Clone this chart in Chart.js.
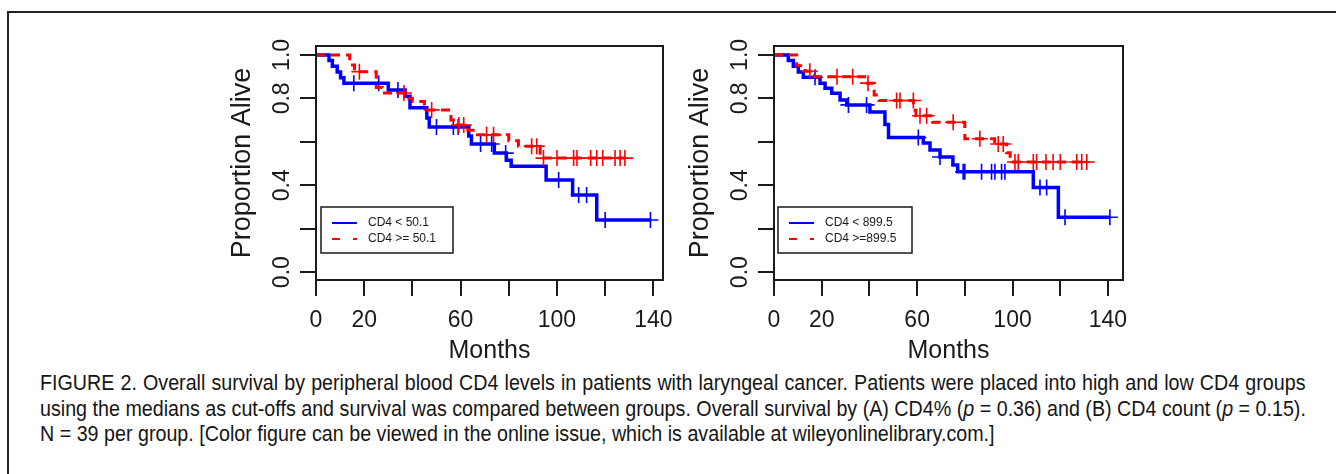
<!DOCTYPE html>
<html>
<head>
<meta charset="utf-8">
<script src="https://cdn.jsdelivr.net/npm/chart.js@4.4.1/dist/chart.umd.min.js"></script>
<style>
  html, body { margin: 0; padding: 0; background: #fff; width: 1336px; height: 474px; overflow: hidden; }
  .frame { position: absolute; left: 7px; top: 11px; width: 1340px; height: 480px; border-left: 2px solid #222; border-top: 2px solid #222; }
  canvas { position: absolute; top: 0; }
  #caption { position: absolute; left: 40px; top: 370px; color: #151515;
    font: 22px "Liberation Sans", Arial, sans-serif; line-height: 25.5px; }
  #caption div { width: 1414px; white-space: nowrap; transform: scaleX(0.895); transform-origin: 0 0; }
  #caption .j { text-align: justify; text-align-last: justify; }
</style>
</head>
<body>
<div class="frame"></div>
<canvas id="left" width="480" height="358" style="left:200px"></canvas>
<canvas id="right" width="470" height="358" style="left:680px"></canvas>
<div id="caption">
  <div class="j">FIGURE 2. Overall survival by peripheral blood CD4 levels in patients with laryngeal cancer. Patients were placed into high and low CD4 groups</div>
  <div class="j">using the medians as cut-offs and survival was compared between groups. Overall survival by (A) CD4% (<i>p</i> = 0.36) and (B) CD4 count (<i>p</i> = 0.15).</div>
  <div>N = 39 per group. [Color figure can be viewed in the online issue, which is available at wileyonlinelibrary.com.]</div>
</div>
<script>
// panel A: CD4 %
const leftLowTime = [0, 5.4, 6.8, 8.8, 10.2, 11.6, 30, 37, 39, 46, 47, 63.4, 64.5, 74, 79, 81, 95.5, 106.5, 116.5, 138.8]
const leftLowSurv = [1, 0.974, 0.948, 0.921, 0.895, 0.87, 0.839, 0.81, 0.757, 0.71, 0.668, 0.627, 0.59, 0.548, 0.515, 0.487, 0.424, 0.355, 0.24, 0.24]
const leftLowCensTime = [15.7, 26, 34, 50, 57, 59, 68.3, 72.9, 78.7, 100.7, 109, 112.3, 120, 138.8]
const leftLowCensSurv = [0.87, 0.87, 0.839, 0.668, 0.668, 0.668, 0.59, 0.59, 0.548, 0.424, 0.355, 0.355, 0.24, 0.24]

const leftHighTime = [0, 14, 16, 25, 27.5, 38.5, 40, 45, 56, 58, 63, 67, 80, 84, 93, 128.2]
const leftHighSurv = [1, 0.954, 0.923, 0.85, 0.825, 0.8, 0.785, 0.747, 0.7, 0.677, 0.653, 0.632, 0.605, 0.58, 0.525, 0.525]
const leftHighCensTime = [18, 36.5, 48, 59.3, 61.3, 70.8, 73.7, 89.5, 91.6, 94.4, 100, 106.9, 108.3, 114, 116.5, 119, 124.1, 126.2, 128.2]
const leftHighCensSurv = [0.923, 0.825, 0.747, 0.677, 0.677, 0.632, 0.632, 0.58, 0.58, 0.525, 0.525, 0.525, 0.525, 0.525, 0.525, 0.525, 0.525, 0.525, 0.525]
const leftLegend = ['CD4 < 50.1', 'CD4 >= 50.1']

// panel B: CD4 count
const rightLowTime = [0, 6, 8.1, 10.2, 12.3, 19.3, 21.4, 24.2, 27.7, 30.5, 40.2, 46.5, 48, 62.6, 65.4, 69.6, 75, 77, 108.7, 119.2, 140.8]
const rightLowSurv = [1, 0.974, 0.948, 0.921, 0.897, 0.87, 0.847, 0.824, 0.793, 0.77, 0.737, 0.68, 0.62, 0.594, 0.562, 0.53, 0.493, 0.462, 0.39, 0.253, 0.253]
const rightLowCensTime = [17.2, 31.2, 38.8, 60.5, 69.6, 79.3, 80, 87, 91.2, 92.6, 95.4, 96.8, 111.5, 114.3, 122, 140.8]
const rightLowCensSurv = [0.897, 0.77, 0.77, 0.62, 0.53, 0.462, 0.462, 0.462, 0.462, 0.462, 0.462, 0.462, 0.39, 0.39, 0.253, 0.253]

const rightHighTime = [0, 9.5, 13, 17, 38, 42, 44, 58.5, 59.5, 66.5, 80, 92.5, 97.5, 99, 131.1]
const rightHighSurv = [1, 0.95, 0.925, 0.9, 0.87, 0.815, 0.79, 0.745, 0.72, 0.69, 0.614, 0.59, 0.55, 0.507, 0.507]
const rightHighCensTime = [15, 26.4, 33, 39.4, 51.4, 52.8, 58.4, 61.2, 64, 75.1, 86.3, 94, 96.1, 101, 102.4, 108.7, 110.1, 114, 117, 120, 126.9, 129, 131.1]
const rightHighCensSurv = [0.925, 0.9, 0.9, 0.87, 0.79, 0.79, 0.79, 0.72, 0.72, 0.69, 0.614, 0.59, 0.59, 0.507, 0.507, 0.507, 0.507, 0.507, 0.507, 0.507, 0.507, 0.507, 0.507]
const rightLegend = ['CD4 < 899.5', 'CD4 >=899.5']

const xTicks = [0, 20, 40, 60, 80, 100, 120, 140]
const xTickLabels = ['0', '20', '', '60', '', '100', '', '140']
const yTicks = [0, 0.2, 0.4, 0.6, 0.8, 1.0]
const yTickLabels = ['0.0', '', '0.4', '', '0.8', '1.0']

const BLUE = '#0000ff'
const RED = '#ff0000'
const INK = '#1a1a1a'

const toPoints = (xs, ys) => xs.map((x, i) => ({ x, y: ys[i] }))

const rotText = (ctx, text, x, y) => {
  ctx.save()
  ctx.translate(x, y)
  ctx.rotate(-Math.PI / 2)
  ctx.fillText(text, 0, 0)
  ctx.restore()
}

// R style box, axes and legend
const survivalAxes = {
  id: 'survivalAxes',
  afterDraw(chart, args, opts) {
    const { ctx, chartArea: a, scales: { x, y } } = chart
    ctx.save()
    ctx.strokeStyle = INK
    ctx.fillStyle = INK
    ctx.lineWidth = 2
    ctx.strokeRect(a.left, a.top, a.right - a.left, a.bottom - a.top)

    ctx.beginPath()
    xTicks.forEach(v => {
      const px = Math.round(x.getPixelForValue(v))
      ctx.moveTo(px, a.bottom)
      ctx.lineTo(px, a.bottom + 16)
    })
    yTicks.forEach(v => {
      const py = Math.round(y.getPixelForValue(v))
      ctx.moveTo(a.left, py)
      ctx.lineTo(a.left - 16, py)
    })
    ctx.stroke()

    ctx.font = '23px "Liberation Sans", Arial, sans-serif'
    ctx.textAlign = 'center'
    ctx.textBaseline = 'alphabetic'
    xTicks.forEach((v, i) => {
      if (xTickLabels[i]) ctx.fillText(xTickLabels[i], x.getPixelForValue(v), a.bottom + 47)
    })
    yTicks.forEach((v, i) => {
      if (yTickLabels[i]) rotText(ctx, yTickLabels[i], a.left - 27, y.getPixelForValue(v))
    })

    ctx.font = '27px "Liberation Sans", Arial, sans-serif'
    rotText(ctx, 'Proportion Alive', a.left - 66, (a.top + a.bottom) / 2)
    ctx.font = '25px "Liberation Sans", Arial, sans-serif'
    ctx.fillText('Months', (a.left + a.right) / 2, a.bottom + 78)

    // legend
    const lx = a.left + opts.legendX
    const ly = 207
    ctx.lineWidth = 1.5
    ctx.strokeRect(lx, ly, opts.legendW, 46)
    ctx.lineWidth = 2
    ctx.strokeStyle = BLUE
    ctx.beginPath()
    ctx.moveTo(lx + 11, ly + 16)
    ctx.lineTo(lx + 36, ly + 16)
    ctx.stroke()
    ctx.strokeStyle = RED
    ctx.setLineDash([8, 13])
    ctx.beginPath()
    ctx.moveTo(lx + 11, ly + 32)
    ctx.lineTo(lx + 36, ly + 32)
    ctx.stroke()
    ctx.setLineDash([])
    ctx.font = '12px "Liberation Sans", Arial, sans-serif'
    ctx.textAlign = 'left'
    ctx.textBaseline = 'middle'
    ctx.fillStyle = INK
    ctx.fillText(opts.labels[0], lx + 47, ly + 16)
    ctx.fillText(opts.labels[1], lx + 47, ly + 32)
    ctx.restore()
  }
}

const makePanel = (id, p) => new Chart(document.getElementById(id), {
  type: 'line',
  data: {
    datasets: [
      {
        type: 'scatter', data: toPoints(p.highCensTime, p.highCensSurv),
        pointStyle: 'cross', pointRadius: 8, borderColor: RED, borderWidth: 1.6, showLine: false
      },
      {
        data: toPoints(p.highTime, p.highSurv), stepped: true,
        borderColor: RED, borderWidth: 3, borderDash: [9, 6], pointRadius: 0, fill: false
      },
      {
        type: 'scatter', data: toPoints(p.lowCensTime, p.lowCensSurv),
        pointStyle: 'cross', pointRadius: 8, borderColor: BLUE, borderWidth: 1.6, showLine: false
      },
      {
        data: toPoints(p.lowTime, p.lowSurv), stepped: true,
        borderColor: BLUE, borderWidth: 3.5, pointRadius: 0, fill: false
      }
    ]
  },
  options: {
    responsive: false,
    animation: false,
    devicePixelRatio: 1,
    layout: { padding: p.padding },
    plugins: {
      legend: { display: false },
      tooltip: { enabled: false },
      survivalAxes: { labels: p.legend, legendX: p.legendX, legendW: p.legendW }
    },
    scales: {
      x: { type: 'linear', min: 0, max: p.xMax, display: false },
      y: { type: 'linear', min: -0.036, max: 1.041, display: false }
    }
  },
  plugins: [survivalAxes]
})

makePanel('left', {
  lowTime: leftLowTime, lowSurv: leftLowSurv, lowCensTime: leftLowCensTime, lowCensSurv: leftLowCensSurv,
  highTime: leftHighTime, highSurv: leftHighSurv, highCensTime: leftHighCensTime, highCensSurv: leftHighCensSurv,
  legend: leftLegend, legendX: 5, legendW: 132, xMax: 144,
  padding: { left: 116, right: 17, top: 46, bottom: 78 }
})

makePanel('right', {
  lowTime: rightLowTime, lowSurv: rightLowSurv, lowCensTime: rightLowCensTime, lowCensSurv: rightLowCensSurv,
  highTime: rightHighTime, highSurv: rightHighSurv, highCensTime: rightHighCensTime, highCensSurv: rightHighCensSurv,
  legend: rightLegend, legendX: 4, legendW: 134, xMax: 146.3,
  padding: { left: 94, right: 27, top: 46, bottom: 78 }
})
</script>
</body>
</html>
